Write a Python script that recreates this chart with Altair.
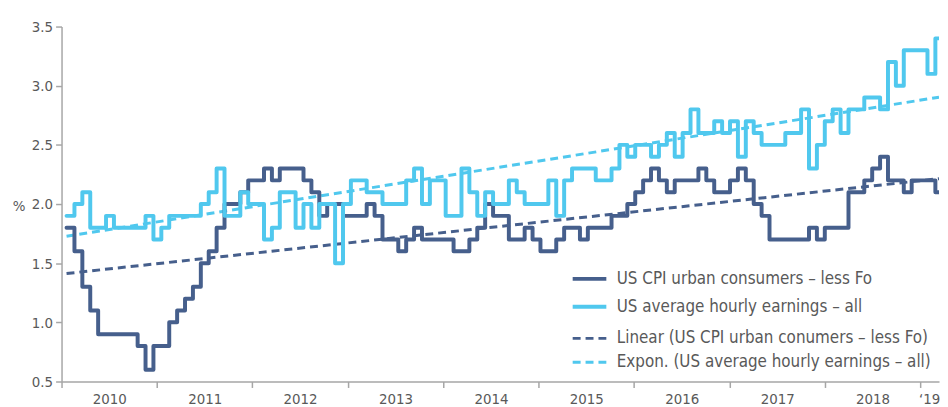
import altair as alt
import pandas as pd

# ---- data (monthly, % y/y) ----
cpi = [1.8, 1.6, 1.3, 1.1, 0.9, 0.9, 0.9, 0.9, 0.9, 0.8, 0.6, 0.8,
       0.8, 1.0, 1.1, 1.2, 1.3, 1.5, 1.6, 1.8, 2.0, 2.0, 2.1, 2.2,
       2.2, 2.3, 2.2, 2.3, 2.3, 2.3, 2.2, 2.1, 1.9, 2.0, 2.0, 1.9,
       1.9, 1.9, 2.0, 1.9, 1.7, 1.7, 1.6, 1.7, 1.8, 1.7, 1.7, 1.7,
       1.7, 1.6, 1.6, 1.7, 1.8, 2.0, 1.9, 1.9, 1.7, 1.7, 1.8, 1.7,
       1.6, 1.6, 1.7, 1.8, 1.8, 1.7, 1.8, 1.8, 1.8, 1.9, 1.9, 2.0,
       2.1, 2.2, 2.3, 2.2, 2.1, 2.2, 2.2, 2.2, 2.3, 2.2, 2.1, 2.1,
       2.2, 2.3, 2.2, 2.0, 1.9, 1.7, 1.7, 1.7, 1.7, 1.7, 1.8, 1.7,
       1.8, 1.8, 1.8, 2.1, 2.1, 2.2, 2.3, 2.4, 2.2, 2.2, 2.1, 2.2,
       2.2, 2.2, 2.1]
ahe = [1.9, 2.0, 2.1, 1.8, 1.8, 1.9, 1.8, 1.8, 1.8, 1.8, 1.9, 1.7,
       1.8, 1.9, 1.9, 1.9, 1.9, 2.0, 2.1, 2.3, 1.9, 1.9, 2.1, 2.0,
       2.0, 1.7, 1.8, 2.1, 2.1, 1.8, 2.0, 1.8, 2.0, 2.0, 1.5, 2.0,
       2.2, 2.2, 2.1, 2.1, 2.0, 2.0, 2.0, 2.2, 2.3, 2.0, 2.2, 2.2,
       1.9, 1.9, 2.3, 2.1, 1.9, 2.1, 2.0, 2.0, 2.2, 2.1, 2.0, 2.0,
       2.0, 2.2, 1.9, 2.2, 2.3, 2.3, 2.3, 2.2, 2.2, 2.3, 2.5, 2.4,
       2.5, 2.5, 2.4, 2.5, 2.6, 2.4, 2.6, 2.8, 2.6, 2.6, 2.7, 2.6,
       2.7, 2.4, 2.7, 2.6, 2.5, 2.5, 2.5, 2.6, 2.6, 2.8, 2.3, 2.5,
       2.7, 2.8, 2.6, 2.8, 2.8, 2.9, 2.9, 2.8, 3.2, 3.0, 3.3, 3.3,
       3.3, 3.1, 3.4]
assert len(cpi) == len(ahe) == 111

solid_names = ["US CPI urban consumers \u2013 less Fo",
               "US average hourly earnings \u2013 all"]
trend_names = ["Linear (US CPI urban conumers \u2013 less Fo)",
               "Expon. (US average hourly earnings \u2013 all)"]
year_labels = ["2010", "2011", "2012", "2013", "2014", "2015", "2016",
               "2017", "2018"]
last_label = "\u201819"

DARK = "#465f8c"
LIGHT = "#50c8ee"
TEXT = "#595959"
FONT = "Liberation Sans Narrow, DejaVu Sans Condensed, Roboto, sans-serif"

# x position in axis-month units (0 = start of 2010, 12 per year)
START, STEP = 0.63, 0.9933
X_END = 110.35


def frame(name, values, extend=True):
    rows = [{"series": name, "u": START + STEP * i, "value": v}
            for i, v in enumerate(values)]
    if extend:
        rows.append({"series": name, "u": START + STEP * len(values),
                     "value": values[-1]})
    return pd.DataFrame(rows)


steps = pd.concat([frame(solid_names[0], cpi), frame(solid_names[1], ahe)])

x_scale = alt.Scale(domain=[0, X_END], nice=False, zero=False)
y_scale = alt.Scale(domain=[0.5, 3.5], nice=False, zero=False)

tick_vals = list(range(0, 109, 6)) + [109.1]
label_arr = "[" + ",".join("'%s'" % s for s in year_labels) + "]"
label_expr = ("datum.value % 12 === 6 ? " + label_arr + "[floor(datum.value / 12)] : "
              "(datum.value > 109 ? '" + last_label + "' : '')")

x_axis = alt.Axis(values=tick_vals, labelExpr=label_expr, title=None,
                  grid=False, labelOverlap=False, labelFlush=False,
                  tickSize=6, labelPadding=4, labelFontSize=15,
                  tickOpacity={"condition": {"test": "datum.value % 12 === 0", "value": 1},
                               "value": 0})
y_axis = alt.Axis(values=[0.5, 1.0, 1.5, 2.0, 2.5, 3.0, 3.5], format=".1f",
                  title="%", titleAngle=0, titleAlign="right",
                  titleBaseline="middle", titleX=-37, titleY=181,
                  titleFontSize=15, titleFontWeight="normal", titleColor=TEXT,
                  grid=False, tickSize=6, labelPadding=3, labelFontSize=15)

lines = alt.Chart(steps).mark_line(interpolate="step-after", strokeWidth=4,
                                   clip=True, strokeJoin="round",
                                   strokeCap="round").encode(
    x=alt.X("u:Q", scale=x_scale, axis=x_axis),
    y=alt.Y("value:Q", scale=y_scale, axis=y_axis),
    color=alt.Color("series:N",
                    scale=alt.Scale(domain=solid_names, range=[DARK, LIGHT]),
                    legend=alt.Legend(title=None, orient="none", legendX=524,
                                      legendY=246, symbolType="M-3,0H3",
                                      symbolSize=128, symbolStrokeWidth=4,
                                      labelOffset=19, rowPadding=10,
                                      labelFontSize=17, labelColor=TEXT,
                                      labelFont=FONT, labelLimit=400,
                                      padding=0)),
)

trend_legend = alt.Legend(title=None, orient="none", legendX=524, legendY=306,
                          symbolType="M-3,0H3", symbolSize=128,
                          symbolStrokeWidth=3, labelOffset=19, rowPadding=6,
                          labelFontSize=17, labelColor=TEXT, labelFont=FONT,
                          labelLimit=400, padding=0)


def trend_encode(chart):
    return chart.mark_line(strokeWidth=3, clip=True).encode(
        x=alt.X("u:Q", scale=x_scale),
        y=alt.Y("value:Q", scale=y_scale),
        color=alt.Color("series:N",
                        scale=alt.Scale(domain=trend_names, range=[DARK, LIGHT]),
                        legend=trend_legend),
        strokeDash=alt.StrokeDash("series:N",
                                  scale=alt.Scale(domain=trend_names,
                                                  range=[[8, 5], [8, 5]]),
                                  legend=trend_legend),
    )


# linear least-squares trend of CPI
lin_trend = trend_encode(
    alt.Chart(frame(solid_names[0], cpi, extend=False)).transform_regression(
        "u", "value", method="linear", extent=[START, X_END]
    ).transform_calculate(series="'" + trend_names[0] + "'")
)

# exponential trend of earnings (least squares on log values, as a spreadsheet does)
exp_trend = trend_encode(
    alt.Chart(frame(solid_names[1], ahe, extend=False)).transform_calculate(
        lv="log(datum.value)"
    ).transform_regression(
        "u", "lv", method="linear", extent=[START, X_END]
    ).transform_calculate(
        value="exp(datum.lv)", series="'" + trend_names[1] + "'"
    )
)

trends = alt.layer(lin_trend, exp_trend)

chart = alt.layer(trends, lines).resolve_scale(
    color="independent", strokeDash="independent"
).properties(
    width=885, height=358,
    padding={"left": 54, "top": 17, "right": 1, "bottom": 24},
    autosize=alt.AutoSizeParams(type="none"),
).configure_view(stroke=None).configure_axis(
    domainColor="#a6a6a6", domainWidth=1.5, tickColor="#a6a6a6", tickWidth=1.5,
    labelColor=TEXT, labelFont=FONT, titleFont=FONT,
).configure_legend(labelFont=FONT)

chart.save("out.html", embed_options={"renderer": "svg", "actions": False})
